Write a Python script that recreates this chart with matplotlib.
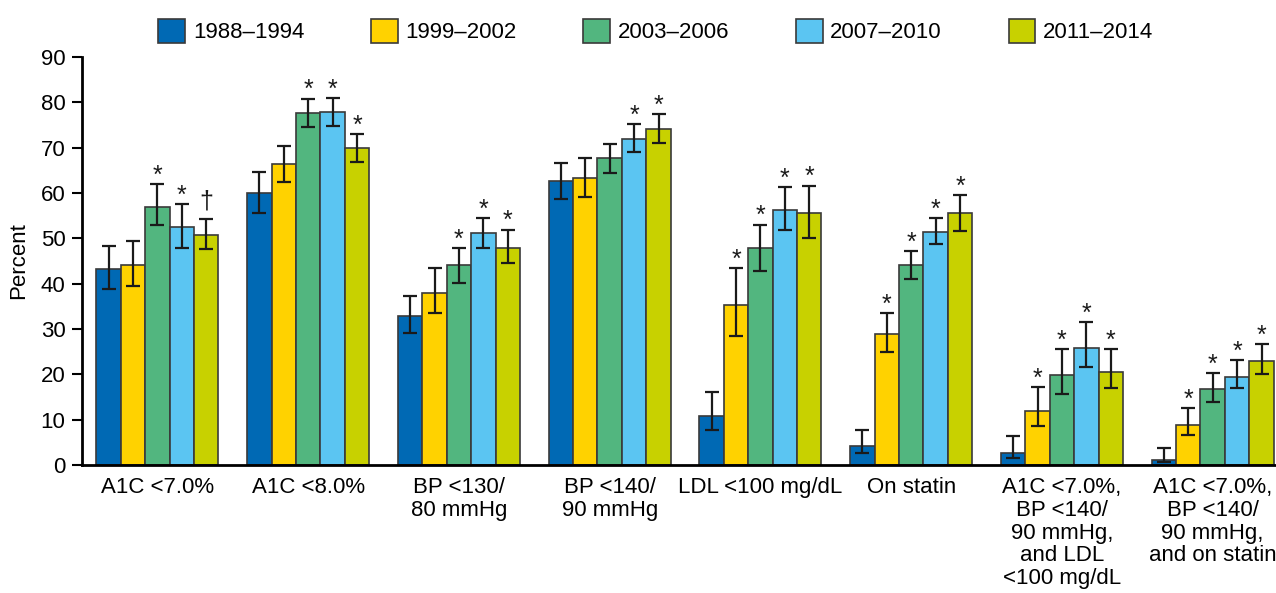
import numpy as np
import matplotlib
matplotlib.use('Agg')
import matplotlib.pyplot as plt

plt.rcParams['font.family'] = ['Liberation Sans Narrow', 'Liberation Sans', 'DejaVu Sans']

# Categorías del eje x
categorias = ['A1C <7.0%', 'A1C <8.0%', 'BP <130/\n80 mmHg', 'BP <140/\n90 mmHg',
              'LDL <100 mg/dL', 'On statin',
              'A1C <7.0%,\nBP <140/\n90 mmHg,\nand LDL\n<100 mg/dL',
              'A1C <7.0%,\nBP <140/\n90 mmHg,\nand on statin']

periodos = ['1988–1994', '1999–2002', '2003–2006', '2007–2010', '2011–2014']
colores = ['#0069b4', '#ffd200', '#52b67f', '#5bc5f2', '#c8d100']

# Valores (porcentaje) por periodo
v_1988 = [43.2, 60.0, 32.8, 62.6, 10.8, 4.2, 2.7, 1.0]
v_1999 = [44.0, 66.3, 38.0, 63.3, 35.3, 28.8, 11.9, 8.8]
v_2003 = [57.0, 77.6, 44.2, 67.7, 47.9, 44.1, 19.9, 16.7]
v_2007 = [52.4, 77.9, 51.1, 72.0, 56.2, 51.4, 25.9, 19.5]
v_2011 = [50.7, 69.9, 47.9, 74.1, 55.6, 55.5, 20.6, 22.9]

# Límites de los intervalos de confianza
lo_1988 = [38.9, 55.6, 29.2, 58.6, 7.6, 2.7, 1.6, 0.7]
hi_1988 = [48.2, 64.6, 37.3, 66.7, 16.0, 7.7, 6.3, 3.7]
lo_1999 = [39.4, 62.3, 33.6, 59.1, 28.4, 24.9, 8.5, 6.5]
hi_1999 = [49.3, 70.4, 43.4, 67.8, 43.4, 33.5, 17.1, 12.5]
lo_2003 = [52.9, 74.6, 40.1, 64.4, 42.8, 41.0, 15.6, 13.8]
hi_2003 = [62.0, 80.8, 47.9, 70.8, 53.0, 47.2, 25.5, 20.3]
lo_2007 = [47.9, 74.8, 47.8, 69.1, 51.8, 48.8, 21.5, 16.9]
hi_2007 = [57.5, 81.0, 54.5, 75.1, 61.2, 54.5, 31.5, 23.1]
lo_2011 = [47.7, 66.8, 44.6, 71.0, 50.0, 51.6, 16.9, 20.1]
hi_2011 = [54.2, 73.0, 51.9, 77.3, 61.6, 59.6, 25.5, 26.6]

# Marcas de significancia
m_1988 = ['', '', '', '', '', '', '', '']
m_1999 = ['', '', '', '', '*', '*', '*', '*']
m_2003 = ['*', '*', '*', '', '*', '*', '*', '*']
m_2007 = ['*', '*', '*', '*', '*', '*', '*', '*']
m_2011 = ['†', '*', '*', '*', '*', '*', '*', '*']

valores = [v_1988, v_1999, v_2003, v_2007, v_2011]
bajos = [lo_1988, lo_1999, lo_2003, lo_2007, lo_2011]
altos = [hi_1988, hi_1999, hi_2003, hi_2007, hi_2011]
marcas = [m_1988, m_1999, m_2003, m_2007, m_2011]

fs = 16
fig = plt.figure(figsize=(12.76, 5.93), dpi=100)
ax = fig.add_axes([0.0643, 0.216, 0.9357, 0.688])

x = np.arange(len(categorias))
ancho = 0.162
for i in range(5):
    pos = x + (i - 2) * ancho
    v = np.array(valores[i])
    err = [v - np.array(bajos[i]), np.array(altos[i]) - v]
    ax.bar(pos, v, width=ancho, color=colores[i], edgecolor='#3a3a3a', linewidth=1.2,
           label=periodos[i], zorder=2)
    ax.errorbar(pos, v, yerr=err, fmt='none', ecolor='#1a1a1a', elinewidth=1.6,
                capsize=4.8, capthick=1.6, zorder=3)
    for j in range(len(categorias)):
        if marcas[i][j] == '*':
            ax.text(pos[j], altos[i][j] + 0.3, '*', ha='center', va='baseline',
                    fontsize=18, color='#1a1a1a')
        elif marcas[i][j] == '†':
            ax.text(pos[j], altos[i][j] + 2.4, '†', ha='center', va='baseline',
                    fontsize=18, color='#1a1a1a')

ax.set_xlim(-0.5, 7.42)
ax.set_ylim(0, 90)
ax.set_yticks(range(0, 91, 10))
ax.set_xticks(x)
ax.set_xticklabels(categorias, fontsize=fs, linespacing=1.1)
ax.tick_params(axis='x', length=0, pad=9)
ax.tick_params(axis='y', length=7, width=1.5, pad=5, labelsize=fs)
ax.spines['top'].set_visible(False)
ax.spines['right'].set_visible(False)
ax.spines['left'].set_linewidth(2)
ax.spines['bottom'].set_linewidth(2)
ax.set_ylabel('Percent', fontsize=fs, labelpad=8)

fig.legend(loc='upper center', bbox_to_anchor=(0.514, 1.0), ncol=5, frameon=False,
           fontsize=fs, handlelength=1.2, handleheight=1.3, handletextpad=0.35,
           columnspacing=3.0, borderaxespad=0.45)

plt.savefig('out.png', dpi=100)
